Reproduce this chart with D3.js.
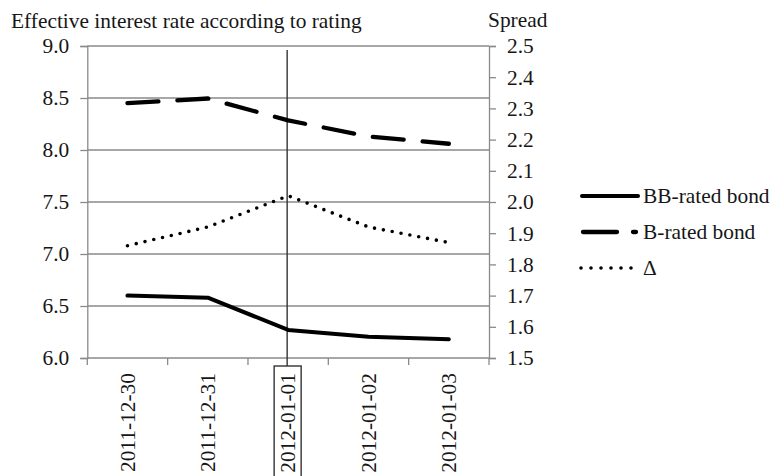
<!DOCTYPE html>
<html><head><meta charset="utf-8">
<script src="https://cdn.jsdelivr.net/npm/d3@7"></script>
<style>
html,body{margin:0;padding:0;background:#fff;}
svg{display:block;font-family:"Liberation Serif","Times New Roman",serif;}
</style></head>
<body>
<svg id="c" width="774" height="476"></svg>
<script>
const categories = ["2011-12-30","2011-12-31","2012-01-01","2012-01-02","2012-01-03"];
const bbRated = [6.60, 6.58, 6.27, 6.205, 6.18];
const bRated = [8.45, 8.495, 8.285, 8.13, 8.06];
const spread = [1.86, 1.92, 2.02, 1.92, 1.87];
const leftTicks = [6.0, 6.5, 7.0, 7.5, 8.0, 8.5, 9.0];
const rightTicks = [1.5,1.6,1.7,1.8,1.9,2.0,2.1,2.2,2.3,2.4,2.5];
const highlight = "2012-01-01";
const leftTitle = "Effective interest rate according to rating";
const rightTitle = "Spread";
const legendLabels = ["BB-rated bond","B-rated bond","Δ"];

const L = 87.3, R = 489, T = 46, B = 358;
const grid = "#8a8a8a", ink = "#161616", FS = 21.4, FF = "Liberation Serif";
const svg = d3.select("#c");

const x = d3.scaleBand().domain(categories).range([L, R]).padding(0);
const yL = d3.scaleLinear().domain([6, 9]).range([B, T]);
const yR = d3.scaleLinear().domain([1.5, 2.5]).range([B, T]);

// gridlines
svg.append("g").selectAll("line").data(leftTicks).join("line")
  .attr("x1", L).attr("x2", R).attr("y1", d => yL(d)).attr("y2", d => yL(d))
  .attr("stroke", grid).attr("stroke-width", 1.3);

// left axis
const gl = svg.append("g").attr("transform", `translate(${L},0)`)
  .call(d3.axisLeft(yL).tickValues(leftTicks).tickFormat(d3.format(".1f")).tickSize(7).tickPadding(11));
gl.select(".domain").attr("stroke", grid).attr("stroke-width", 1.3);
gl.selectAll(".tick line").attr("stroke", grid).attr("stroke-width", 1.3);
gl.selectAll("text").attr("font-size", FS).attr("font-family", FF).attr("fill", ink);

// right axis
const gr = svg.append("g").attr("transform", `translate(${R},0)`)
  .call(d3.axisRight(yR).tickValues(rightTicks).tickFormat(d3.format(".1f")).tickSize(7).tickPadding(11));
gr.select(".domain").attr("stroke", grid).attr("stroke-width", 1.3);
gr.selectAll(".tick line").attr("stroke", grid).attr("stroke-width", 1.3);
gr.selectAll("text").attr("font-size", FS).attr("font-family", FF).attr("fill", ink);

// bottom ticks at category boundaries
const bounds = categories.map(c => x(c)).concat([x(categories[categories.length-1]) + x.bandwidth()]);
svg.append("g").selectAll("line").data(bounds).join("line")
  .attr("x1", d => d).attr("x2", d => d).attr("y1", B).attr("y2", B + 7)
  .attr("stroke", grid).attr("stroke-width", 1.3);

// highlight vertical line
const hx = x(highlight) + x.bandwidth()/2 - 1;
svg.append("line").attr("x1", hx).attr("x2", hx).attr("y1", 50).attr("y2", 366)
  .attr("stroke", "#333").attr("stroke-width", 1.4);
svg.append("rect").attr("x", hx - 13).attr("y", 366).attr("width", 27).attr("height", 120)
  .attr("fill", "none").attr("stroke", "#333").attr("stroke-width", 1.4);

// x labels
svg.append("g").selectAll("text").data(categories).join("text")
  .attr("transform", d => `translate(${x(d) + x.bandwidth()/2},373) rotate(-90)`)
  .attr("text-anchor", "end").attr("dy", "0.33em")
  .attr("font-size", FS).attr("font-family", FF).attr("fill", ink).text(d => d);

// lines
const cx = d => x(d) + x.bandwidth()/2;
const lineL = d3.line().x((d,i) => cx(categories[i])).y(d => yL(d));
const lineR = d3.line().x((d,i) => cx(categories[i])).y(d => yR(d));

svg.append("path").datum(bbRated).attr("d", lineL)
  .attr("fill", "none").attr("stroke", "#000").attr("stroke-width", 4).attr("stroke-linejoin", "round").attr("stroke-linecap", "round");
svg.append("path").datum(bRated).attr("d", lineL)
  .attr("fill", "none").attr("stroke", "#000").attr("stroke-width", 4.3).attr("stroke-linecap", "round")
  .attr("stroke-dasharray", "31,19");
svg.append("path").datum(spread).attr("d", lineR)
  .attr("fill", "none").attr("stroke", "#000").attr("stroke-width", 3.6).attr("stroke-linecap", "round")
  .attr("stroke-dasharray", "0,9");

// titles
svg.append("text").attr("x", 11).attr("y", 28).attr("font-size", FS).attr("font-family", FF).attr("fill", ink).text(leftTitle);
svg.append("text").attr("x", 488).attr("y", 27).attr("font-size", FS).attr("font-family", FF).attr("fill", ink).text(rightTitle);

// legend
const ly = [196, 232, 268];
const lg = svg.append("g");
lg.append("line").attr("x1", 582).attr("x2", 638).attr("y1", ly[0]).attr("y2", ly[0])
  .attr("stroke", "#000").attr("stroke-width", 4).attr("stroke-linecap", "round");
lg.append("line").attr("x1", 583).attr("x2", 636).attr("y1", ly[1]).attr("y2", ly[1])
  .attr("stroke", "#000").attr("stroke-width", 4.3).attr("stroke-linecap", "round").attr("stroke-dasharray", "34,16");
lg.append("line").attr("x1", 581).attr("x2", 632).attr("y1", ly[2]).attr("y2", ly[2])
  .attr("stroke", "#000").attr("stroke-width", 3.6).attr("stroke-linecap", "round").attr("stroke-dasharray", "0,10");
lg.selectAll("text").data(legendLabels).join("text")
  .attr("x", 643).attr("y", (d,i) => ly[i] + 6.5).attr("font-size", FS).attr("font-family", FF).attr("fill", ink).text(d => d);
</script>
</body></html>
